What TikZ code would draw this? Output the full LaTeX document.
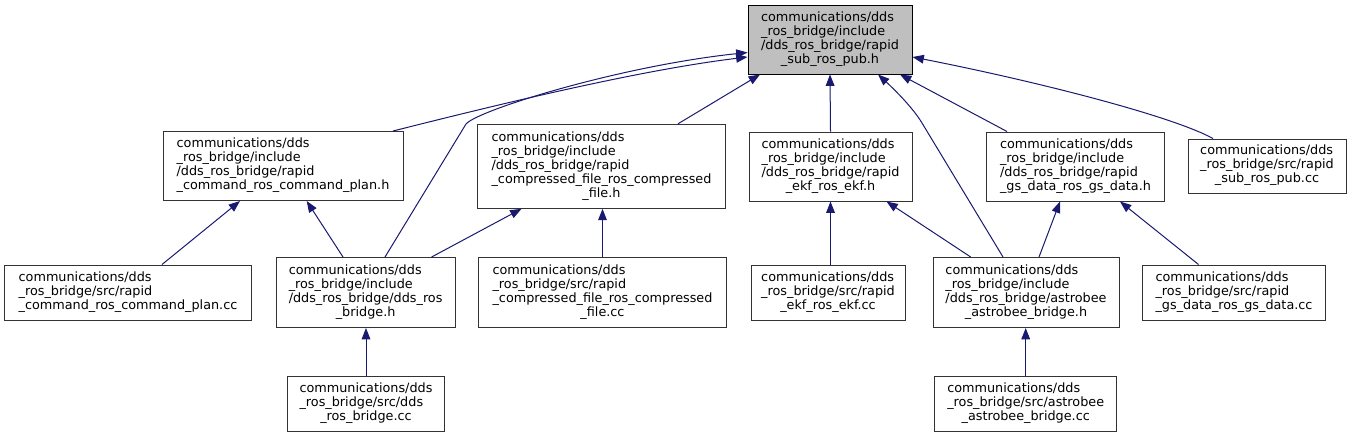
\documentclass[tikz,border=0pt]{standalone}
\usepackage{fontspec}
\setmainfont{DejaVu Sans}
\usepackage{tikz}
\usetikzlibrary{arrows.meta,calc}
\definecolor{edgeblue}{HTML}{191970}
\definecolor{rootgray}{HTML}{BFBFBF}
% file label: left aligned lines, last line centred
\newcommand{\fname}[2]{\begin{tabular}{@{}l@{}}#1\\\multicolumn{1}{@{}c@{}}{#2}\end{tabular}}

\begin{document}
\begin{tikzpicture}[x=0.75pt,y=-0.75pt,
		file/.style={rectangle, draw=black!80, line width=0.75pt, fill=white, inner sep=0pt, font=\fontsize{9.6}{10.5}\selectfont},
		box/.style 2 args={minimum width={#1*0.75pt}, minimum height={#2*0.75pt}},
		dep/.style={draw=edgeblue, line width=0.75pt, -{Triangle[length=8.5pt,width=6.5pt]}}]
			\useasboundingbox (0,0) rectangle (1351,437);
			% Nodes
			\node[file, box={164}{69}, fill=rootgray, draw=black] (root) at (830,39.5) {\fname{communications/dds\\\_ros\_bridge/include\\/dds\_ros\_bridge/rapid}{\_sub\_ros\_pub.h}};
			\node[file, box={240}{69}] (cmdplanh) at (283,166) {\fname{communications/dds\\\_ros\_bridge/include\\/dds\_ros\_bridge/rapid}{\_command\_ros\_command\_plan.h}};
			\node[file, box={248}{84}] (comprh) at (601.5,166.3) {\fname{communications/dds\\\_ros\_bridge/include\\/dds\_ros\_bridge/rapid\\\_compressed\_file\_ros\_compressed}{\_file.h}};
			\node[file, box={163}{69}] (ekfh) at (830.5,166.5) {\fname{communications/dds\\\_ros\_bridge/include\\/dds\_ros\_bridge/rapid}{\_ekf\_ros\_ekf.h}};
			\node[file, box={178}{69}] (gsh) at (1075.5,166.5) {\fname{communications/dds\\\_ros\_bridge/include\\/dds\_ros\_bridge/rapid}{\_gs\_data\_ros\_gs\_data.h}};
			\node[file, box={158}{54}] (subcc) at (1267,166) {\fname{communications/dds\\\_ros\_bridge/src/rapid}{\_sub\_ros\_pub.cc}};
			\node[file, box={247}{55}] (cmdplancc) at (128,292.5) {\fname{communications/dds\\\_ros\_bridge/src/rapid}{\_command\_ros\_command\_plan.cc}};
			\node[file, box={179}{70}] (ddsh) at (365.6,292.5) {\fname{communications/dds\\\_ros\_bridge/include\\/dds\_ros\_bridge/dds\_ros}{\_bridge.h}};
			\node[file, box={248}{70}] (comprcc) at (602.5,292.5) {\fname{communications/dds\\\_ros\_bridge/src/rapid\\\_compressed\_file\_ros\_compressed}{\_file.cc}};
			\node[file, box={154}{55}] (ekfcc) at (828,292.5) {\fname{communications/dds\\\_ros\_bridge/src/rapid}{\_ekf\_ros\_ekf.cc}};
			\node[file, box={186}{70}] (astroh) at (1026,292.5) {\fname{communications/dds\\\_ros\_bridge/include\\/dds\_ros\_bridge/astrobee}{\_astrobee\_bridge.h}};
			\node[file, box={183}{55}] (gscc) at (1234,292.5) {\fname{communications/dds\\\_ros\_bridge/src/rapid}{\_gs\_data\_ros\_gs\_data.cc}};
			\node[file, box={157}{55}] (ddscc) at (366,404) {\fname{communications/dds\\\_ros\_bridge/src/dds}{\_ros\_bridge.cc}};
			\node[file, box={182}{55}] (astrocc) at (1025.7,404) {\fname{communications/dds\\\_ros\_bridge/src/astrobee}{\_astrobee\_bridge.cc}};
			% Edges
			\draw[dep] ($(ddsh.north)+(19.4,0)$) -- (466,124) .. controls (478,110) and (620,66) .. ($(root.west)+(0,13)$);
			\draw[dep] ($(cmdplanh.north)+(110,0)$) .. controls (500,104) and (640,70) .. ($(root.west)+(0,17.5)$);
			\draw[dep] ($(comprh.north)+(76.5,0)$) -- ($(root.south)+(-70,0)$);
			\draw[dep] (ekfh.north) -- (root.south);
			\draw[dep] ($(astroh.north)+(-23,0)$) -- (922,123) .. controls (913,108) and (895,90) .. ($(root.south)+(48,0)$);
			\draw[dep] ($(gsh.north)+(-68.5,0)$) -- ($(root.south)+(70,0)$);
			\draw[dep] ($(subcc.north)+(-54,0)$) .. controls (1170,115) and (1030,80) .. ($(root.east)+(0,17.5)$);
			\draw[dep] ($(cmdplancc.north)+(34,0)$) -- ($(cmdplanh.south)+(-43,0)$);
			\draw[dep] ($(ddsh.north)+(-22.6,0)$) -- ($(cmdplanh.south)+(23.7,0)$);
			\draw[dep] ($(ddsh.north)+(66,0)$) -- ($(comprh.south)+(-80,0)$);
			\draw[dep] (comprcc.north) -- (comprcc.north |- comprh.south);
			\draw[dep] (ekfh.south |- ekfcc.north) -- (ekfh.south);
			\draw[dep] ($(astroh.north)+(-55.3,0)$) -- ($(ekfh.south)+(56,0)$);
			\draw[dep] ($(astroh.north)+(13,0)$) -- ($(gsh.south)+(-15.5,0)$);
			\draw[dep] ($(gscc.north)+(-35.5,0)$) -- ($(gsh.south)+(44.5,0)$);
			\draw[dep] (ddscc.north) -- (ddscc.north |- ddsh.south);
			\draw[dep] (astrocc.north) -- (astrocc.north |- astroh.south);
		\end{tikzpicture}
\end{document}
